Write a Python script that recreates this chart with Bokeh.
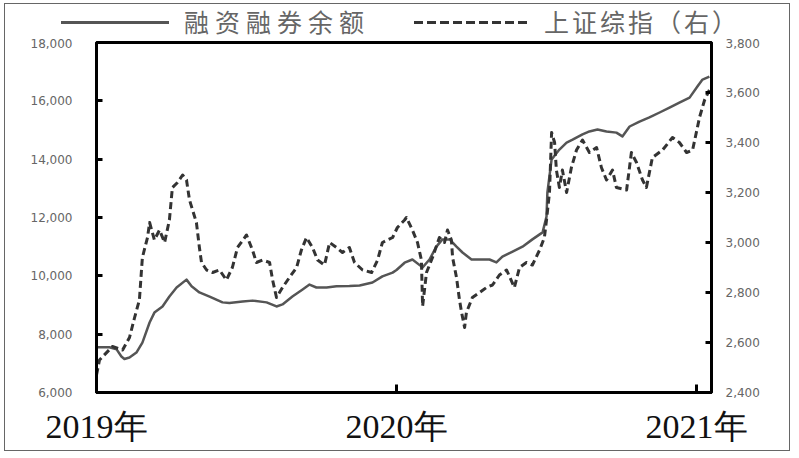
from bokeh.plotting import figure
from bokeh.layouts import column
from bokeh.models import (Range1d, LinearAxis, FixedTicker, Div,
                          CustomJSTickFormatter, NumeralTickFormatter)
from bokeh.embed import file_html
from bokeh.resources import INLINE

# ---- data (time as fractional year) ----
bal_t = [2019.000, 2019.043, 2019.067, 2019.083, 2019.093, 2019.110, 2019.133, 2019.153,
         2019.177, 2019.193, 2019.220, 2019.243, 2019.267, 2019.300, 2019.317, 2019.343,
         2019.377, 2019.420, 2019.443, 2019.487, 2019.520, 2019.567, 2019.600, 2019.620,
         2019.653, 2019.687, 2019.710, 2019.733, 2019.767, 2019.800, 2019.843, 2019.877,
         2019.920, 2019.953, 2019.987, 2020.000, 2020.027, 2020.053, 2020.087, 2020.110,
         2020.133, 2020.153, 2020.177, 2020.200, 2020.220, 2020.250, 2020.277, 2020.310,
         2020.333, 2020.353, 2020.387, 2020.420, 2020.453, 2020.487, 2020.500, 2020.503,
         2020.517, 2020.543, 2020.567, 2020.587, 2020.620, 2020.643, 2020.670, 2020.700,
         2020.733, 2020.753, 2020.777, 2020.810, 2020.843, 2020.877, 2020.910, 2020.943,
         2020.977, 2021.003, 2021.020, 2021.043]
bal_v = [7550, 7550, 7480, 7234, 7150, 7200, 7370, 7710,
         8400, 8740, 8950, 9290, 9600, 9870, 9640, 9430,
         9290, 9090, 9070, 9120, 9150, 9090, 8950, 9020,
         9290, 9530, 9700, 9600, 9600, 9640, 9650, 9670,
         9770, 9980, 10110, 10200, 10450, 10560, 10290, 10560,
         11000, 11250, 11250, 11000, 10800, 10560, 10560, 10560,
         10460, 10660, 10830, 11000, 11250, 11490, 12030, 12860,
         13990, 14330, 14570, 14670, 14850, 14950, 15020, 14950,
         14910, 14780, 15120, 15290, 15430, 15600, 15770, 15940,
         16110, 16490, 16730, 16830]

idx_t = [2019.000, 2019.010, 2019.053, 2019.087, 2019.110, 2019.127, 2019.143, 2019.150,
         2019.153, 2019.170, 2019.177, 2019.193, 2019.210, 2019.227, 2019.243, 2019.253,
         2019.270, 2019.287, 2019.300, 2019.310, 2019.333, 2019.343, 2019.350, 2019.367,
         2019.387, 2019.410, 2019.433, 2019.453, 2019.470, 2019.500, 2019.520, 2019.533,
         2019.553, 2019.577, 2019.587, 2019.600, 2019.620, 2019.643, 2019.667, 2019.683,
         2019.700, 2019.720, 2019.737, 2019.760, 2019.777, 2019.800, 2019.820, 2019.843,
         2019.860, 2019.887, 2019.917, 2019.937, 2019.953, 2019.987, 2020.003, 2020.027,
         2020.033, 2020.053, 2020.070, 2020.083, 2020.087, 2020.100, 2020.120, 2020.143,
         2020.160, 2020.170, 2020.183, 2020.187, 2020.200, 2020.210, 2020.217, 2020.227,
         2020.233, 2020.253, 2020.277, 2020.300, 2020.320, 2020.343, 2020.367, 2020.393,
         2020.410, 2020.433, 2020.453, 2020.477, 2020.493, 2020.500, 2020.510, 2020.517,
         2020.527, 2020.533, 2020.543, 2020.553, 2020.567, 2020.583, 2020.600, 2020.620,
         2020.643, 2020.667, 2020.683, 2020.700, 2020.720, 2020.733, 2020.767, 2020.783,
         2020.800, 2020.820, 2020.833, 2020.853, 2020.887, 2020.920, 2020.943, 2020.967,
         2020.987, 2021.003, 2021.010, 2021.027, 2021.043]
idx_v = [2470, 2530, 2584, 2570, 2620, 2700, 2770, 2890,
         2940, 3020, 3080, 3010, 3050, 3000, 3090, 3220,
         3240, 3270, 3250, 3170, 3080, 2980, 2920, 2890,
         2880, 2890, 2850, 2900, 2980, 3030, 2970, 2920,
         2930, 2920, 2850, 2780, 2820, 2860, 2900, 2970,
         3020, 2980, 2930, 2910, 3000, 2980, 2960, 2980,
         2920, 2890, 2880, 2930, 3000, 3020, 3060, 3090,
         3100, 3050, 3000, 2930, 2745, 2880, 2940, 3020,
         3000, 3050, 3010, 2940, 2860, 2770, 2720, 2660,
         2720, 2780, 2800, 2820, 2830, 2870, 2890, 2820,
         2900, 2920, 2910, 2970, 3020, 3090, 3200, 3440,
         3400, 3290, 3220, 3290, 3200, 3300, 3370, 3410,
         3360, 3380, 3300, 3250, 3290, 3220, 3210, 3360,
         3320, 3250, 3220, 3340, 3370, 3420, 3400, 3360,
         3370, 3460, 3500, 3570, 3610]

year_ticks = [2019, 2020, 2021]
left_ticks = [6000, 8000, 10000, 12000, 14000, 16000, 18000]
right_ticks = [2400, 2600, 2800, 3000, 3200, 3400, 3600, 3800]
series_names = ["融资融券余额", "上证综指（右）"]

# ---- legend strip (HTML, real text) ----
txt = ("position:absolute;top:0px;font-family:'Noto Sans CJK SC';font-size:25px;"
       "line-height:34px;color:#666;white-space:nowrap;")
legend_html = (
    '<div style="position:relative;width:784px;height:34px;">'
    '<div style="position:absolute;left:56px;top:17px;width:108px;height:3px;background:#555;"></div>'
    f'<div style="{txt}left:179px;letter-spacing:6px;">{series_names[0]}</div>'
    '<div style="position:absolute;left:409px;top:17px;width:115px;height:3px;'
    'background:repeating-linear-gradient(to right,#333 0px,#333 9px,transparent 9px,transparent 13px);"></div>'
    f'<div style="{txt}left:539px;letter-spacing:3px;">{series_names[1]}</div>'
    '</div>'
)
leg = Div(text=legend_html, width=784, height=34, margin=0)

# ---- main chart ----
p = figure(width=784, height=412, x_range=Range1d(2019.0, 2021.05),
           y_range=Range1d(6000, 18000), output_backend="svg", toolbar_location=None,
           min_border_left=91, min_border_right=78, min_border_top=4, min_border_bottom=58,
           margin=0)
p.extra_y_ranges = {"idx": Range1d(2400, 3800)}
p.xgrid.visible = False
p.ygrid.visible = False
p.outline_line_color = "black"
p.outline_line_width = 3

tick_font = "DejaVu Sans"
xa = p.xaxis[0]
xa.ticker = FixedTicker(ticks=year_ticks)
xa.formatter = CustomJSTickFormatter(code="return Math.round(tick) + '年'")
xa.major_label_text_font = "Liberation Serif"
xa.major_label_text_font_size = "34px"
xa.major_label_text_color = "#111111"
xa.major_label_standoff = 15
xa.major_tick_in = 8
xa.major_tick_out = 0
xa.major_tick_line_width = 3
xa.minor_tick_line_color = None
xa.axis_line_width = 3

ya = p.yaxis[0]
ya.ticker = FixedTicker(ticks=left_ticks)
ya.formatter = NumeralTickFormatter(format="0,0")
ya.major_label_text_font = tick_font
ya.major_label_text_font_size = "12px"
ya.major_label_text_color = "#666666"
ya.major_label_standoff = 24
ya.major_tick_in = 6
ya.major_tick_out = 0
ya.major_tick_line_width = 3
ya.minor_tick_line_color = None
ya.axis_line_width = 3

ra = LinearAxis(y_range_name="idx", ticker=FixedTicker(ticks=right_ticks),
                formatter=NumeralTickFormatter(format="0,0"))
ra.major_label_text_font = tick_font
ra.major_label_text_font_size = "12px"
ra.major_label_text_color = "#666666"
ra.major_label_standoff = 14
ra.major_tick_in = 6
ra.major_tick_out = 0
ra.major_tick_line_width = 3
ra.minor_tick_line_color = None
ra.axis_line_width = 3
p.add_layout(ra, "right")

p.line(bal_t, bal_v, line_color="#555555", line_width=2.5, line_join="round")
p.line(idx_t, idx_v, y_range_name="idx", line_color="#333333", line_width=3,
       line_dash="7 4", line_join="round")

layout = column(leg, p, spacing=0, margin=0,
                styles={"border": "1px solid #666", "margin-left": "4px", "margin-top": "3px"})

open("out.html", "w").write(file_html(layout, INLINE))
